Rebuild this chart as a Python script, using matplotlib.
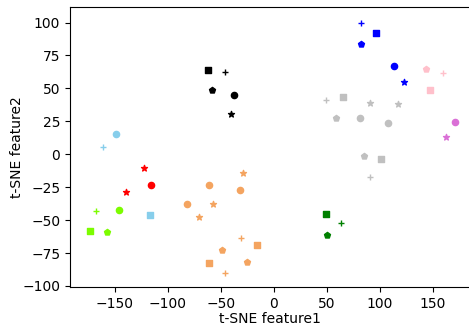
import numpy as np
import matplotlib
matplotlib.use('Agg')
import matplotlib.pyplot as plt

# t-SNE embedding, one list per class colour
classColors = ['black', 'skyblue', 'red', 'lawngreen', 'sandybrown',
               'green', 'blue', 'pink', 'orchid', 'silver']

tsneX = [
    [-62.2, -46.4, -58.0, -37.2, -40.0],
    [-148.8, -160.5, -116.7],
    [-122.0, -139.4, -116.0],
    [-167.1, -146.0, -173.4, -157.4],
    [-29.0, -61.5, -32.2, -81.7, -56.8, -70.6, -30.9, -15.8, -48.6, -60.9, -25.5, -46.0],
    [48.9, 63.4, 50.1],
    [82.6, 96.8, 82.3, 113.5, 122.3],
    [143.5, 159.6, 147.6],
    [170.6, 162.7],
    [49.5, 65.6, 91.1, 117.0, 59.0, 81.1, 108.1, 85.1, 101.5, 91.1],
]
tsneY = [
    [64.2, 62.1, 49.0, 44.9, 30.5],
    [15.4, 5.5, -46.2],
    [-10.6, -28.3, -23.2],
    [-43.4, -42.2, -58.1, -59.1],
    [-14.1, -23.2, -27.3, -37.4, -37.9, -48.0, -63.9, -69.2, -72.5, -82.6, -82.0, -89.9],
    [-45.7, -52.3, -61.6],
    [100.0, 91.9, 83.9, 66.9, 54.5],
    [64.9, 61.4, 48.7],
    [24.5, 13.1],
    [40.9, 43.7, 39.2, 38.4, 27.3, 27.8, 23.7, -1.7, -3.8, -16.9],
]
tsneMarkers = [
    ['s', '+', 'p', 'o', '*'],
    ['o', '+', 's'],
    ['*', '*', 'o'],
    ['+', 'o', 's', 'p'],
    ['*', 'o', 'o', 'o', '*', '*', '+', 's', 'p', 's', 'p', '+'],
    ['s', '+', 'p'],
    ['+', 's', 'p', 'o', '*'],
    ['p', '+', 's'],
    ['o', '*'],
    ['+', 's', '*', '*', 'p', 'o', 'o', 'p', 's', '+'],
]

fig = plt.figure(figsize=(4.69, 3.27), dpi=100)
ax = fig.add_axes([0.1493, 0.1223, 0.853, 0.855])

for c, xs, ys, ms in zip(classColors, tsneX, tsneY, tsneMarkers):
    for x, y, m in zip(xs, ys, ms):
        ax.scatter(x, y, c=c, marker=m, s=20, linewidths=1)

ax.set_xlim([-192, 185])
ax.set_ylim([-100.8, 111.5])
ax.set_xticks([-150, -100, -50, 0, 50, 100, 150])
ax.set_yticks([-100, -75, -50, -25, 0, 25, 50, 75, 100])
ax.set_xlabel('t-SNE feature1', labelpad=1)
ax.set_ylabel('t-SNE feature2', labelpad=-1)
fig.savefig('out.png', dpi=100)
